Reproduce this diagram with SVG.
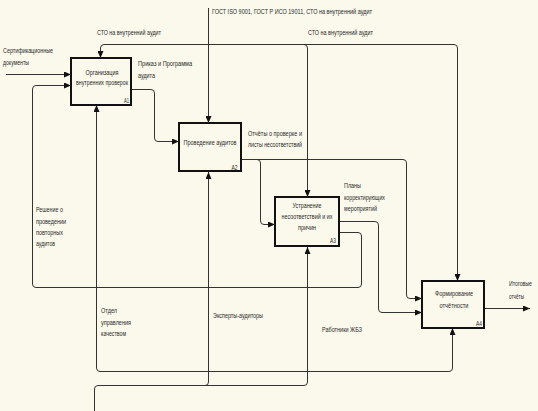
<svg xmlns="http://www.w3.org/2000/svg" width="538" height="411" viewBox="0 0 538 411">
<defs>
<marker id="ah" markerUnits="userSpaceOnUse" markerWidth="7" markerHeight="6" refX="7" refY="3" orient="auto-start-reverse">
<path d="M0,0 L7,3 L0,6 z" fill="#111"/>
</marker>
<style>
.box{fill:#faf9ec;stroke:#111;stroke-width:2}
.c{fill:none;stroke:#333;stroke-width:1;marker-end:url(#ah)}
text{font-family:"Liberation Sans","DejaVu Sans",sans-serif;font-size:8px;fill:#2a2a2a}
.m{text-anchor:middle}
</style>
</defs>
<rect width="538" height="411" fill="#faf9ec"/>
<g id="connectors">
<path class="c" d="M6,74.5 H71"/>
<path class="c" d="M339,232.5 H358 Q361.5,232.5 361.5,236 V284 Q361.5,287.5 358,287.5 H36 Q32.5,287.5 32.5,284 V89 Q32.5,85.5 36,85.5 H71"/>
<path class="c" d="M131,89.5 H151 Q154.5,89.5 154.5,93 V138 Q154.5,141.5 158,141.5 H179"/>
<path class="c" d="M241,159.5 H403 Q406.5,159.5 406.5,163 V295 Q406.5,298.5 410,298.5 H422"/>
<path class="c" d="M257,159.5 Q260.5,159.5 260.5,163 V221 Q260.5,224.5 264,224.5 H275"/>
<path class="c" d="M339,221.5 H375 Q378.5,221.5 378.5,225 V309 Q378.5,312.5 382,312.5 H422"/>
<path class="c" d="M208.5,44.5 H104 Q100.5,44.5 100.5,48 V58"/>
<path class="c" d="M208.5,44.5 H454 Q457.5,44.5 457.5,48 V281"/>
<path class="c" d="M304,44.5 Q307.5,44.5 307.5,48 V197"/>
<path class="c" d="M208.5,8 V123"/>
<path class="c" style="marker-start:url(#ah)" d="M96.5,105 V368 Q96.5,371.5 100,371.5 H449 Q452.5,371.5 452.5,368 V328"/>
<path class="c" d="M94.5,411 V389 Q94.5,385.5 98,385.5 H304 Q307.5,385.5 307.5,382 V247"/>
<path class="c" d="M205,385.5 Q208.5,385.5 208.5,382 V172"/>
<path class="c" d="M484,308.5 H530"/>
</g>
<g id="A1">
<rect class="box" x="71" y="58" width="60" height="47"/>
<text class="m" x="102" y="74.5" textLength="33" lengthAdjust="spacingAndGlyphs">Организация</text>
<text class="m" x="102" y="85" textLength="52" lengthAdjust="spacingAndGlyphs">внутренних проверок</text>
<text x="124" y="102.5" textLength="5" lengthAdjust="spacingAndGlyphs">A1</text>
</g>
<g id="A2">
<rect class="box" x="179" y="123" width="62" height="48"/>
<text class="m" x="210" y="145" textLength="53" lengthAdjust="spacingAndGlyphs">Проведение аудитов</text>
<text x="231.5" y="169.5" textLength="6" lengthAdjust="spacingAndGlyphs">A2</text>
</g>
<g id="A3">
<rect class="box" x="275" y="197" width="64" height="49"/>
<text class="m" x="307" y="208" textLength="29" lengthAdjust="spacingAndGlyphs">Устранение</text>
<text class="m" x="307" y="219" textLength="51" lengthAdjust="spacingAndGlyphs">несоответствий и их</text>
<text class="m" x="307" y="229.5" textLength="18" lengthAdjust="spacingAndGlyphs">причин</text>
<text x="330" y="242.5" textLength="6" lengthAdjust="spacingAndGlyphs">A3</text>
</g>
<g id="A4">
<rect class="box" x="422" y="281" width="62" height="47"/>
<text class="m" x="454" y="296" textLength="38" lengthAdjust="spacingAndGlyphs">Формирование</text>
<text class="m" x="454" y="308" textLength="29" lengthAdjust="spacingAndGlyphs">отчётности</text>
<text x="476" y="326" textLength="6" lengthAdjust="spacingAndGlyphs">A4</text>
</g>
<g id="labels">
<text x="212" y="14" textLength="160" lengthAdjust="spacingAndGlyphs">ГОСТ ISO 9001, ГОСТ Р ИСО 19011, СТО на внутренний аудит</text>
<text x="97" y="35" textLength="64" lengthAdjust="spacingAndGlyphs">СТО на внутренний аудит</text>
<text x="308" y="35" textLength="65" lengthAdjust="spacingAndGlyphs">СТО на внутренний аудит</text>
<text x="3" y="53" textLength="50" lengthAdjust="spacingAndGlyphs">Сертификационные</text>
<text x="3" y="64.5" textLength="26" lengthAdjust="spacingAndGlyphs">документы</text>
<text x="138" y="66" textLength="54" lengthAdjust="spacingAndGlyphs">Приказ и Программа</text>
<text x="138" y="78" textLength="17" lengthAdjust="spacingAndGlyphs">аудита</text>
<text x="248" y="136" textLength="54" lengthAdjust="spacingAndGlyphs">Отчёты о проверке и</text>
<text x="248" y="147" textLength="54" lengthAdjust="spacingAndGlyphs">листы несоответствий</text>
<text x="344" y="188" textLength="17" lengthAdjust="spacingAndGlyphs">Планы</text>
<text x="344" y="199.5" textLength="41" lengthAdjust="spacingAndGlyphs">корректирующих</text>
<text x="344" y="211" textLength="33" lengthAdjust="spacingAndGlyphs">мероприятий</text>
<text x="36" y="212" textLength="27" lengthAdjust="spacingAndGlyphs">Решение о</text>
<text x="36" y="223.5" textLength="30" lengthAdjust="spacingAndGlyphs">проведении</text>
<text x="36" y="234.5" textLength="27" lengthAdjust="spacingAndGlyphs">повторных</text>
<text x="36" y="246" textLength="19" lengthAdjust="spacingAndGlyphs">аудитов</text>
<text x="509" y="285.5" textLength="23" lengthAdjust="spacingAndGlyphs">Итоговые</text>
<text x="509" y="298.5" textLength="15" lengthAdjust="spacingAndGlyphs">отчёты</text>
<text x="101" y="313" textLength="16" lengthAdjust="spacingAndGlyphs">Отдел</text>
<text x="101" y="324.5" textLength="30" lengthAdjust="spacingAndGlyphs">управления</text>
<text x="101" y="335.5" textLength="25" lengthAdjust="spacingAndGlyphs">качеством</text>
<text x="213" y="318" textLength="50" lengthAdjust="spacingAndGlyphs">Эксперты-аудиторы</text>
<text x="322" y="332" textLength="40" lengthAdjust="spacingAndGlyphs">Работники ЖБЗ</text>
</g>
</svg>
